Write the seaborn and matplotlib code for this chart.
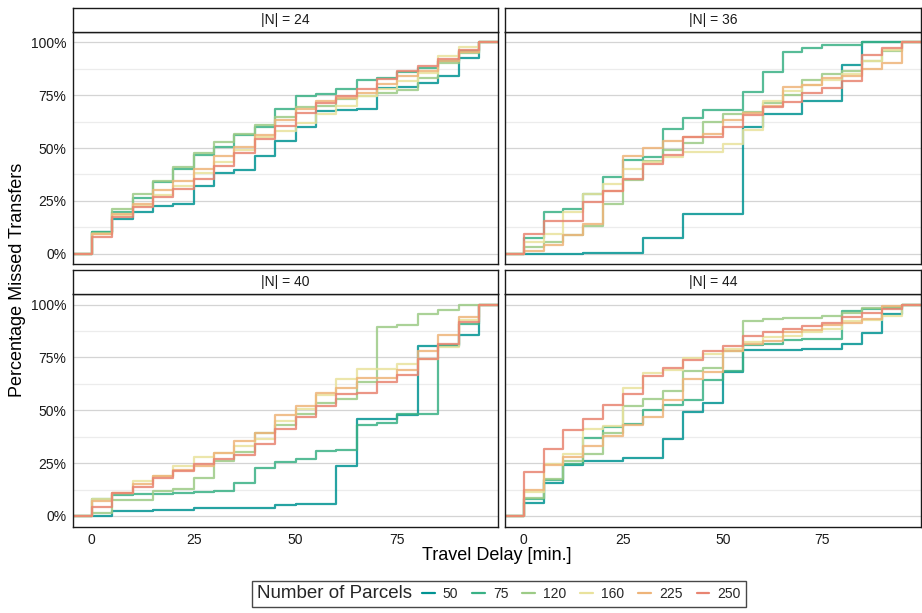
import matplotlib
matplotlib.use("Agg")
import matplotlib.pyplot as plt
import numpy as np
import pandas as pd
import seaborn as sns
from matplotlib.offsetbox import HPacker

# ---------------- data ----------------
delays = list(range(0, 100, 5))          # travel delay steps (min.) 0..95
parcels = ["50", "75", "120", "160", "225", "250"]
panels = [24, 36, 40, 44]
colors = ["#009392", "#39b185", "#9ccb86", "#e9e29c", "#eeb479", "#e88471"]

# cumulative % missed transfers at delays 0..90 (value at 95 is 100 %)
n24_p50 = [10.3, 16.5, 19.6, 22.5, 23.7, 32.1, 38.0, 39.6, 46.2, 53.5, 59.7, 67.7, 68.0, 68.4, 78.3, 78.6, 80.7, 83.9, 92.4]
n24_p75 = [10.3, 20.0, 26.4, 34.0, 40.3, 46.5, 50.6, 56.2, 59.7, 68.5, 74.7, 75.6, 78.0, 82.0, 83.0, 85.8, 87.8, 91.0, 95.7]
n24_p120 = [10.0, 21.0, 28.5, 34.5, 40.8, 47.5, 52.8, 56.6, 61.0, 64.6, 69.5, 70.0, 73.1, 74.7, 76.0, 77.5, 83.0, 90.2, 95.0]
n24_p160 = [9.5, 18.5, 22.6, 28.0, 32.0, 38.3, 43.5, 49.0, 55.0, 58.0, 61.7, 66.0, 69.6, 74.4, 77.8, 81.5, 85.4, 93.4, 97.8]
n24_p225 = [9.5, 19.0, 23.6, 30.0, 34.5, 40.3, 46.2, 50.3, 56.3, 63.3, 68.5, 72.3, 73.6, 76.0, 80.0, 83.9, 86.2, 91.0, 95.5]
n24_p250 = [8.2, 17.4, 22.0, 27.0, 30.7, 35.6, 41.5, 47.5, 54.3, 60.6, 66.5, 71.2, 74.4, 78.0, 82.6, 86.2, 88.6, 91.8, 96.5]

n36_p50 = [0.0, 0.0, 0.0, 0.3, 0.3, 0.3, 7.6, 7.6, 19.0, 19.0, 19.0, 60.0, 66.0, 66.0, 72.0, 72.0, 89.0, 100.0, 100.0]
n36_p75 = [7.4, 19.8, 21.0, 28.5, 36.4, 44.3, 45.6, 59.2, 64.1, 68.0, 68.0, 76.3, 85.9, 95.4, 97.0, 98.6, 98.6, 100.0, 100.0]
n36_p120 = [3.2, 5.5, 9.0, 13.4, 23.4, 35.1, 43.8, 49.0, 52.2, 62.5, 66.1, 66.8, 71.2, 75.2, 82.3, 84.7, 86.2, 91.0, 95.7]
n36_p160 = [5.4, 9.2, 19.8, 28.2, 32.9, 40.3, 43.5, 45.9, 48.0, 48.0, 51.9, 58.5, 72.0, 76.7, 79.9, 82.3, 84.7, 91.0, 96.2]
n36_p225 = [1.6, 4.0, 9.0, 14.2, 29.6, 46.2, 50.2, 53.3, 55.4, 56.5, 63.3, 66.5, 70.0, 79.0, 79.9, 83.0, 83.9, 87.3, 90.2]
n36_p250 = [9.2, 15.5, 15.5, 24.5, 29.6, 35.6, 42.4, 46.7, 55.0, 55.0, 60.1, 65.7, 69.3, 71.5, 75.9, 78.3, 81.5, 94.1, 97.0]

n40_p50 = [0.0, 2.4, 2.4, 3.0, 3.0, 3.9, 3.9, 3.9, 3.9, 5.0, 5.7, 5.7, 23.5, 46.0, 46.0, 47.8, 80.4, 80.4, 85.5]
n40_p75 = [8.0, 10.0, 10.2, 10.4, 10.9, 11.4, 12.0, 15.5, 22.9, 25.6, 26.7, 30.6, 31.1, 43.2, 44.0, 48.4, 48.4, 80.7, 91.0]
n40_p120 = [1.6, 7.4, 7.4, 11.7, 12.9, 18.0, 25.9, 30.3, 39.0, 43.2, 48.4, 53.5, 55.5, 63.4, 89.4, 90.2, 95.7, 97.3, 100.0]
n40_p160 = [8.2, 10.9, 16.4, 18.9, 23.5, 27.9, 30.0, 33.1, 36.6, 45.0, 50.5, 57.0, 64.7, 69.4, 69.4, 72.0, 74.4, 80.0, 92.6]
n40_p225 = [6.9, 10.9, 15.3, 18.9, 21.9, 23.7, 30.0, 35.3, 39.4, 47.6, 51.9, 58.2, 60.6, 65.3, 65.3, 68.9, 77.9, 85.8, 94.2]
n40_p250 = [4.3, 10.9, 13.7, 18.0, 21.1, 24.8, 27.1, 29.0, 33.8, 41.3, 46.8, 51.9, 57.9, 58.0, 63.4, 66.9, 74.4, 81.5, 91.8]

n44_p50 = [6.2, 15.8, 24.0, 25.9, 25.9, 27.6, 27.6, 36.3, 49.2, 53.6, 68.1, 78.4, 78.4, 78.4, 79.2, 79.2, 81.5, 86.4, 95.7]
n44_p75 = [7.9, 16.9, 24.8, 37.1, 42.3, 43.4, 50.0, 52.7, 55.0, 64.4, 68.8, 80.8, 81.5, 83.1, 83.6, 83.9, 97.0, 97.8, 98.5]
n44_p120 = [8.5, 17.4, 25.9, 29.5, 39.0, 52.1, 55.5, 59.0, 68.5, 70.2, 78.0, 92.3, 93.1, 93.7, 93.8, 94.5, 95.9, 98.6, 98.9]
n44_p160 = [11.4, 24.8, 29.2, 41.3, 42.6, 60.6, 67.7, 69.0, 74.8, 76.8, 78.9, 82.3, 84.7, 85.2, 87.1, 88.3, 92.4, 92.6, 94.6]
n44_p225 = [12.1, 24.0, 27.9, 33.1, 37.9, 42.9, 46.8, 54.7, 64.7, 68.1, 78.1, 81.2, 82.8, 87.1, 88.0, 90.2, 91.3, 93.4, 99.4]
n44_p250 = [20.7, 31.9, 40.5, 46.0, 52.4, 57.9, 66.1, 70.0, 73.7, 77.9, 80.4, 84.9, 87.1, 88.3, 89.9, 91.5, 94.3, 95.9, 98.1]

series = {
    24: [n24_p50, n24_p75, n24_p120, n24_p160, n24_p225, n24_p250],
    36: [n36_p50, n36_p75, n36_p120, n36_p160, n36_p225, n36_p250],
    40: [n40_p50, n40_p75, n40_p120, n40_p160, n40_p225, n40_p250],
    44: [n44_p50, n44_p75, n44_p120, n44_p160, n44_p225, n44_p250],
}

# ECDF padding (like stat_ecdf pad=TRUE): -inf -> 0 %, +inf -> 100 %
pad_lo, pad_hi = -20, 120

rows = []
for n in panels:
    for p, vals in zip(parcels, series[n]):
        xs = [pad_lo] + delays + [pad_hi]
        ys = [0.0] + list(vals) + [100.0, 100.0]
        for x, y in zip(xs, ys):
            rows.append({"N": n, "parcels": p, "delay": x, "pct": y})
df = pd.DataFrame(rows)

# ---------------- styling ----------------
sns.set_theme(style="white")
plt.rcParams["font.family"] = ["Liberation Sans", "DejaVu Sans"]

W, H = 922, 613
fig = plt.figure(figsize=(W / 100, H / 100), dpi=100)
palette = dict(zip(parcels, colors))

cols = [(72.5, 498.3), (504.7, 921.0)]
rws = [(31.5, 264.5, 8.0), (294.0, 526.5, 270.5)]


def rect(l, t, r, b):
    return [l / W, 1 - b / H, (r - l) / W, (b - t) / H]


handles = labels = None
for i, n in enumerate(panels):
    r, c = divmod(i, 2)
    l, rr = cols[c]
    t, b, st = rws[r]
    ax = fig.add_axes(rect(l, t, rr, b))
    sub = df[df["N"] == n]
    sns.lineplot(data=sub, x="delay", y="pct", hue="parcels", hue_order=parcels,
                 palette=palette, drawstyle="steps-post", linewidth=1.6, alpha=0.85,
                 estimator=None, sort=True, ax=ax, legend=(i == 0))
    if i == 0:
        handles, labels = ax.get_legend_handles_labels()
        ax.get_legend().remove()
    ax.set_xlim(-4.75, 99.75)
    ax.set_ylim(-5, 105)
    ax.set_xlabel("")
    ax.set_ylabel("")
    ax.set_yticks([0, 25, 50, 75, 100])
    ax.set_yticks([12.5, 37.5, 62.5, 87.5], minor=True)
    ax.set_xticks([0, 25, 50, 75])
    ax.grid(False)
    ax.grid(True, axis="y", which="major", color="#d4d4d4", linewidth=0.9)
    ax.grid(True, axis="y", which="minor", color="#ececec", linewidth=0.9)
    ax.set_axisbelow(True)
    for s in ax.spines.values():
        s.set_color("#1a1a1a")
        s.set_linewidth(1.0)
    ax.tick_params(axis="both", which="major", direction="out", length=3, width=0.8,
                   color="#333333", labelsize=10, labelcolor="#1a1a1a", pad=1.5)
    ax.tick_params(axis="both", which="minor", length=0)
    if c == 0:
        ax.set_yticklabels(["0%", "25%", "50%", "75%", "100%"])
    else:
        ax.tick_params(axis="y", left=False, labelleft=False)
    if r == 1:
        ax.set_xticklabels(["0", "25", "50", "75"])
    else:
        ax.tick_params(axis="x", bottom=False, labelbottom=False)

    # facet strip
    sax = fig.add_axes(rect(l, st, rr, t))
    sax.set_xticks([])
    sax.set_yticks([])
    sax.set_facecolor("white")
    for s in sax.spines.values():
        s.set_color("#1a1a1a")
        s.set_linewidth(1.0)
    sax.text(0.5, 0.5, f"|N| = {n}", ha="center", va="center", fontsize=10,
             color="#1a1a1a", transform=sax.transAxes)

fig.text(18 / W, 1 - 280 / H, "Percentage Missed Transfers", rotation=90,
         ha="center", va="center", fontsize=13, color="black")
fig.text(497 / W, 1 - 555 / H, "Travel Delay [min.]", ha="center", va="center",
         fontsize=13, color="black")

for h in handles:
    h.set_alpha(1.0)
    h.set_linewidth(1.6)
leg = fig.legend(handles, labels, loc="center", bbox_to_anchor=(499 / W, 1 - 594 / H),
                 ncol=6, title="Number of Parcels", title_fontsize=13.5, fontsize=10,
                 frameon=True, fancybox=False, edgecolor="#1a1a1a",
                 handlelength=0.9, handletextpad=0.6, columnspacing=1.0,
                 borderpad=0.35)
leg.get_frame().set_linewidth(1.0)
# put the title to the left of the keys (ggplot style)
vp = leg._legend_box
hp = HPacker(pad=vp.pad, sep=7, align="center", children=vp.get_children())
hp.set_figure(fig)
hp.axes = leg.axes
hp.set_offset(leg._findoffset)
leg._legend_box = hp

fig.savefig("out.png", dpi=100)
